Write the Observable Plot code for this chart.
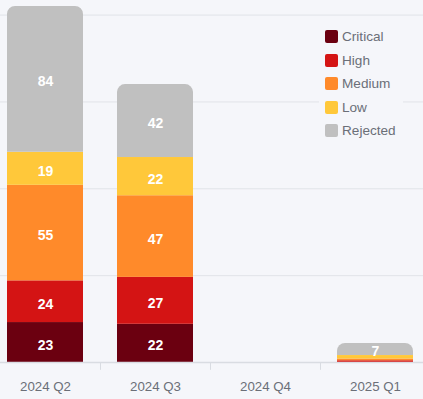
<!DOCTYPE html>
<html>
<head>
<meta charset="utf-8">
<script src="https://cdn.jsdelivr.net/npm/d3@7"></script>
<script src="https://cdn.jsdelivr.net/npm/@observablehq/plot@0.6"></script>
<style>
  html, body { margin: 0; padding: 0; background: #f5f6fa; }
  body { width: 423px; height: 399px; position: relative; overflow: hidden; font-family: "Liberation Sans", Arial, sans-serif; }
  #chart svg { display: block; background: #f5f6fa; }
  #legend { position: absolute; left: 319px; top: 22px; width: 84px; background: #f5f6fa; padding: 3px 0; }
  .item { display: flex; align-items: center; height: 23.5px; font-size: 13.6px; color: #6b6f78; }
  .sw { width: 13px; height: 13px; border-radius: 2px; margin: 0 4px 0 6px; }
</style>
</head>
<body>
<div id="chart"></div>
<div id="legend"></div>
<script>
const quarters = ["2024 Q2", "2024 Q3", "2024 Q4", "2025 Q1"];
const severities = ["Critical", "High", "Medium", "Low", "Rejected"];
const colors = ["#6b0010", "#d41414", "#ff8a2a", "#ffc83a", "#c0c0c0"];
const critical = [23, 22, 0, 0];
const high = [24, 27, 0, 1];
const medium = [55, 47, 0, 1];
const low = [19, 22, 0, 2];
const rejected = [84, 42, 0, 7];
const gridValues = [50, 100, 150, 200];

const series = [critical, high, medium, low, rejected];
const rows = [];
quarters.forEach((q, i) => {
  let acc = 0;
  const qRows = [];
  series.forEach((s, j) => {
    const v = s[i];
    if (v > 0) {
      qRows.push({quarter: q, severity: severities[j], value: v, y1: acc, y2: acc + v, top: false});
      acc += v;
    }
  });
  if (qRows.length) qRows[qRows.length - 1].top = true;
  rows.push(...qRows);
});

const chart = Plot.plot({
  width: 423,
  height: 399,
  marginTop: 0,
  marginLeft: 0,
  marginRight: 0,
  marginBottom: 37,
  style: {background: "#f5f6fa", fontFamily: "'Liberation Sans', Arial, sans-serif"},
  x: {domain: quarters, range: [-10, 430], paddingInner: 0.31, paddingOuter: 0.155, label: null},
  y: {domain: [0, 208.4], axis: null},
  color: {domain: severities, range: colors},
  marks: [
    Plot.ruleY(gridValues, {stroke: "#e1e3e8", strokeWidth: 1}),
    Plot.barY(rows.filter(d => !d.top), {x: "quarter", y1: "y1", y2: "y2", fill: "severity"}),
    Plot.barY(rows.filter(d => d.top), {x: "quarter", y1: "y1", y2: "y2", fill: "severity", ry1: 8}),
    Plot.ruleY([0], {stroke: "#d9dce2", strokeWidth: 1.5}),
    Plot.ruleX(quarters.slice(1), {x: d => d, dx: -55, y1: 0, y2: -4.5, stroke: "#d9dce2"}),
    Plot.text(rows.filter(d => d.value >= 5), {
      x: "quarter", y: d => (d.y1 + d.y2) / 2, text: d => String(d.value),
      fill: "white", fontWeight: "bold", fontSize: 14, dy: 2.5
    }),
    Plot.axisX({tickSize: 0, tickPadding: 19, fontSize: 13.3, color: "#6b6f78"})
  ]
});
document.getElementById("chart").appendChild(chart);

const legend = document.getElementById("legend");
severities.forEach((s, i) => {
  const item = document.createElement("div");
  item.className = "item";
  const sw = document.createElement("div");
  sw.className = "sw";
  sw.style.background = colors[i];
  const label = document.createElement("span");
  label.textContent = s;
  item.appendChild(sw);
  item.appendChild(label);
  legend.appendChild(item);
});
</script>
</body>
</html>
